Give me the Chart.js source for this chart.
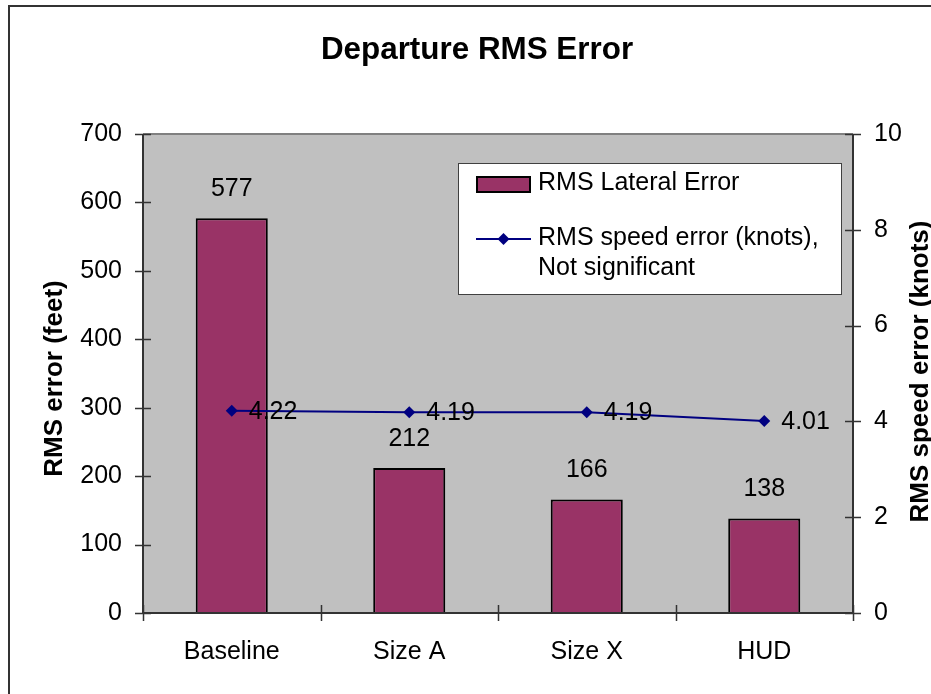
<!DOCTYPE html>
<html>
<head>
<meta charset="utf-8">
<script src="https://cdn.jsdelivr.net/npm/chart.js@4/dist/chart.umd.min.js"></script>
<style>
  html, body { margin: 0; padding: 0; background: #ffffff; }
  #wrap { width: 931px; height: 694px; }
</style>
</head>
<body>
<div id="wrap"><canvas id="c" width="931" height="694"></canvas></div>
<script>
const categories = ['Baseline', 'Size A', 'Size X', 'HUD'];
const lateralError = [577, 212, 166, 138];
const speedError = [4.22, 4.19, 4.19, 4.01];
const leftTicks = [0, 100, 200, 300, 400, 500, 600, 700];
const rightTicks = [0, 2, 4, 6, 8, 10];
const chartTitle = 'Departure RMS Error';
const leftAxisTitle = 'RMS error (feet)';
const rightAxisTitle = 'RMS speed error (knots)';
const barLabel = 'RMS Lateral Error';
const lineLabelLines = ['RMS speed error (knots),', 'Not significant'];

const FONT = '"Liberation Sans", Arial, sans-serif';
const BAR_COLOR = '#993366';
const LINE_COLOR = '#000080';

const decorPlugin = {
  id: 'decor',
  beforeDraw(chart) {
    const { ctx, chartArea: a } = chart;
    ctx.save();
    ctx.fillStyle = '#ffffff';
    ctx.fillRect(0, 0, chart.width, chart.height);
    // outer frame (left and top visible)
    ctx.strokeStyle = '#333333';
    ctx.lineWidth = 2;
    ctx.beginPath();
    ctx.moveTo(9, chart.height + 2);
    ctx.lineTo(9, 6);
    ctx.lineTo(chart.width + 2, 6);
    ctx.stroke();
    // title
    ctx.fillStyle = '#000000';
    ctx.font = 'bold 31.4px ' + FONT;
    ctx.textAlign = 'center';
    ctx.textBaseline = 'alphabetic';
    ctx.fillText(chartTitle, 477, 58.5);
    // plot area
    ctx.fillStyle = '#c0c0c0';
    ctx.fillRect(a.left, a.top, a.right - a.left, a.bottom - a.top);
    ctx.strokeStyle = '#808080';
    ctx.lineWidth = 2;
    ctx.beginPath();
    ctx.moveTo(a.left, a.top);
    ctx.lineTo(a.right, a.top);
    ctx.stroke();
    ctx.restore();
  },
  afterDatasetsDraw(chart) {
    const { ctx, chartArea: a, scales } = chart;
    ctx.save();
    // axis lines
    ctx.strokeStyle = '#333333';
    ctx.lineWidth = 2;
    ctx.beginPath();
    ctx.moveTo(a.left, a.top);
    ctx.lineTo(a.left, a.bottom);
    ctx.lineTo(a.right, a.bottom);
    ctx.moveTo(a.right, a.top);
    ctx.lineTo(a.right, a.bottom);
    ctx.stroke();
    // cross tick marks
    ctx.lineWidth = 1.5;
    ctx.beginPath();
    leftTicks.forEach(v => {
      const y = Math.round(scales.y.getPixelForValue(v)) + 0.5;
      ctx.moveTo(a.left - 8, y); ctx.lineTo(a.left + 8, y);
    });
    rightTicks.forEach(v => {
      const y = Math.round(scales.y1.getPixelForValue(v)) + 0.5;
      ctx.moveTo(a.right - 8, y); ctx.lineTo(a.right + 8, y);
    });
    const n = categories.length;
    for (let i = 0; i <= n; i++) {
      const x = Math.round(a.left + i * (a.right - a.left) / n) + 0.5;
      ctx.moveTo(x, a.bottom - 8); ctx.lineTo(x, a.bottom + 8);
    }
    ctx.stroke();

    // value labels
    ctx.fillStyle = '#000000';
    ctx.font = '25px ' + FONT;
    ctx.textBaseline = 'middle';
    const barMeta = chart.getDatasetMeta(0);
    ctx.textAlign = 'center';
    barMeta.data.forEach((el, i) => {
      ctx.fillText(String(lateralError[i]), el.x, el.y - 29);
    });
    const lineMeta = chart.getDatasetMeta(1);
    ctx.textAlign = 'left';
    lineMeta.data.forEach((el, i) => {
      ctx.fillText(speedError[i].toFixed(2), el.x + 17, el.y + 1);
    });

    // axis titles
    ctx.font = 'bold 26px ' + FONT;
    ctx.textAlign = 'center';
    ctx.textBaseline = 'middle';
    const cy = (a.top + a.bottom) / 2;
    ctx.save();
    ctx.translate(55, cy + 5);
    ctx.rotate(-Math.PI / 2);
    ctx.fillText(leftAxisTitle, 0, 0);
    ctx.restore();
    ctx.save();
    ctx.translate(921, cy - 2);
    ctx.rotate(-Math.PI / 2);
    ctx.fillText(rightAxisTitle, 0, 0);
    ctx.restore();

    // legend
    const lx = 458, ly = 163, lw = 383, lh = 131;
    ctx.fillStyle = '#ffffff';
    ctx.fillRect(lx, ly, lw, lh);
    ctx.strokeStyle = '#404040';
    ctx.lineWidth = 1;
    ctx.strokeRect(lx + 0.5, ly + 0.5, lw, lh);
    ctx.fillStyle = BAR_COLOR;
    ctx.fillRect(477, 177, 53, 15);
    ctx.strokeStyle = '#000000';
    ctx.lineWidth = 2;
    ctx.strokeRect(477, 177, 53, 15);
    ctx.strokeStyle = LINE_COLOR;
    ctx.lineWidth = 2;
    ctx.beginPath();
    ctx.moveTo(476, 239); ctx.lineTo(531, 239);
    ctx.stroke();
    ctx.fillStyle = LINE_COLOR;
    ctx.beginPath();
    ctx.moveTo(503.5, 233); ctx.lineTo(509.5, 239); ctx.lineTo(503.5, 245); ctx.lineTo(497.5, 239);
    ctx.closePath();
    ctx.fill();
    ctx.fillStyle = '#000000';
    ctx.font = '25px ' + FONT;
    ctx.textAlign = 'left';
    ctx.textBaseline = 'middle';
    ctx.fillText(barLabel, 538, 183);
    ctx.fillText(lineLabelLines[0], 538, 238);
    ctx.fillText(lineLabelLines[1], 538, 268);
    ctx.restore();
  }
};

new Chart(document.getElementById('c'), {
  data: {
    labels: categories,
    datasets: [
      {
        type: 'bar',
        label: barLabel,
        data: lateralError,
        yAxisID: 'y',
        backgroundColor: BAR_COLOR,
        borderColor: '#000000',
        borderWidth: 2,
        borderSkipped: 'bottom',
        barPercentage: 0.406,
        categoryPercentage: 1.0,
        order: 2
      },
      {
        type: 'line',
        label: lineLabelLines.join(' '),
        data: speedError,
        yAxisID: 'y1',
        borderColor: LINE_COLOR,
        backgroundColor: LINE_COLOR,
        borderWidth: 2,
        pointStyle: 'rectRot',
        pointRadius: 6,
        pointBorderWidth: 0,
        tension: 0,
        order: 1
      }
    ]
  },
  options: {
    responsive: false,
    animation: false,
    layout: { padding: { top: 134, left: 0, right: 0, bottom: 0 } },
    plugins: {
      legend: { display: false },
      tooltip: { enabled: false },
      title: { display: false }
    },
    scales: {
      x: {
        offset: true,
        grid: { display: false, drawTicks: false },
        border: { display: false },
        ticks: { color: '#000000', font: { family: FONT, size: 25 }, padding: 24, maxRotation: 0 },
        afterFit(s) { s.height = 81; }
      },
      y: {
        position: 'left',
        min: 0, max: 700,
        grid: { display: false, drawTicks: false },
        border: { display: false },
        ticks: { stepSize: 100, color: '#000000', font: { family: FONT, size: 25 }, padding: 21 },
        afterFit(s) { s.width = 143; }
      },
      y1: {
        position: 'right',
        min: 0, max: 10,
        grid: { display: false, drawTicks: false },
        border: { display: false },
        ticks: { stepSize: 2, color: '#000000', font: { family: FONT, size: 25 }, padding: 21 },
        afterFit(s) { s.width = 78; }
      }
    }
  },
  plugins: [decorPlugin]
});
</script>
</body>
</html>
